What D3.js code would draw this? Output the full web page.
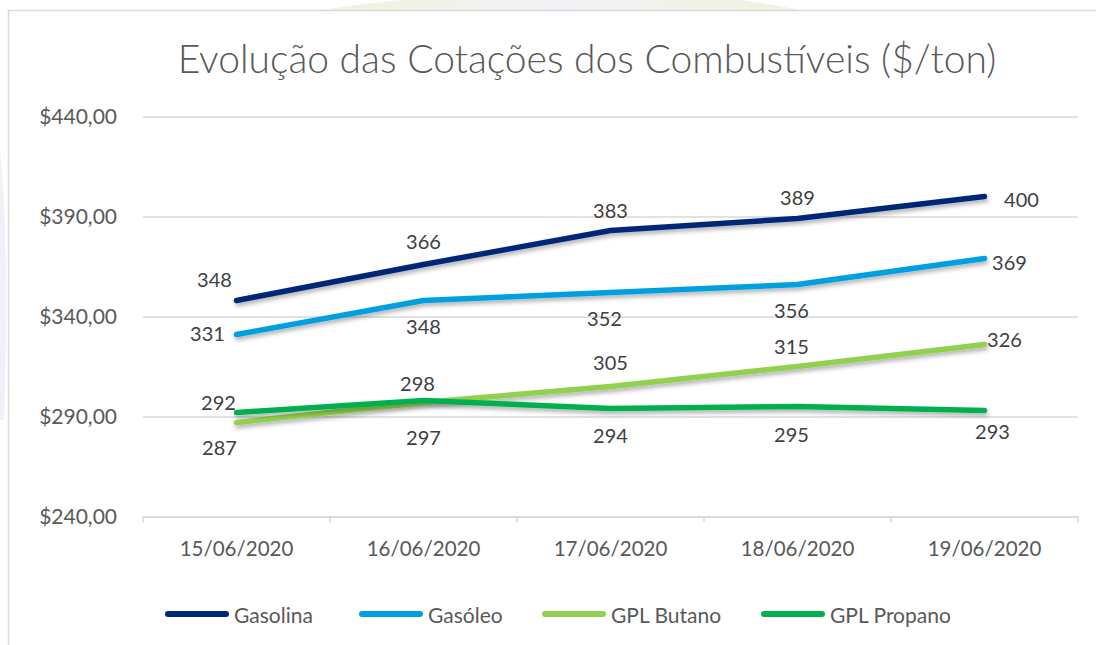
<!DOCTYPE html>
<html><head><meta charset="utf-8">
<script src="https://cdn.jsdelivr.net/npm/d3@7"></script>
<style>html,body{margin:0;padding:0;background:#fff;}svg{display:block;}</style>
</head><body>
<svg id="c" width="1096" height="645"></svg>
<script>
const categories = ["15/06/2020","16/06/2020","17/06/2020","18/06/2020","19/06/2020"];
const seriesNames = ["Gasolina","Gasóleo","GPL Butano","GPL Propano"];
const gasolina = [348,366,383,389,400];
const gasoleo = [331,348,352,356,369];
const butano = [287,297,305,315,326];
const propano = [292,298,294,295,293];
const yTicks = [240,290,340,390,440];
const colors = ["#002878","#00A0E0","#92D050","#00B050"];
// label placement per point: [dx, dy]
const labelPos = [
  [[-22,-22],[0,-24],[0,-21],[0,-22],[37,2]],
  [[-29,-2],[0,25],[-6,25],[-6,25],[25,3]],
  [[-17,24],[0,34],[0,-25],[-6,-21],[20,-6]],
  [[-18,-11],[-6,-18],[0,26],[-6,27],[8,20]]
];
const data = [gasolina,gasoleo,butano,propano];

const svg = d3.select("#c");
const font = "Lato, 'Open Sans', sans-serif";

// faint watermark background
const defs = svg.append("defs");
const g1 = defs.append("linearGradient").attr("id","wm").attr("x1","0").attr("x2","1");
g1.append("stop").attr("offset","0").attr("stop-color","#eef3dc");
g1.append("stop").attr("offset","0.5").attr("stop-color","#f1f2f7");
g1.append("stop").attr("offset","1").attr("stop-color","#eef3dc");
svg.append("path").attr("d","M320,10 Q600,-30 800,10 Z").attr("fill","url(#wm)");
svg.append("path").attr("d","M0,150 Q10,250 4,420 L0,420 Z").attr("fill","#eef1f6");
const flt = defs.append("filter").attr("id","sh").attr("x","-10%").attr("y","-50%").attr("width","120%").attr("height","200%");
flt.append("feDropShadow").attr("dx",1).attr("dy",3).attr("stdDeviation",2.2).attr("flood-color","#000").attr("flood-opacity",0.3);

// chart frame
svg.append("rect").attr("x",8.5).attr("y",10.5).attr("width",1100).attr("height",700)
  .attr("fill","#fff").attr("stroke","#d9d9d9").attr("stroke-width",1.5);

const x0 = 143, x1 = 1078, yTop = 116.5, yBot = 516.5;
const x = d3.scaleBand().domain(categories).range([x0,x1]);
const y = d3.scaleLinear().domain([240,440]).range([yBot,yTop]);

// title
svg.append("text").attr("x",587).attr("y",73).attr("text-anchor","middle")
  .attr("font-family",font).attr("font-size",39).attr("font-weight",300).attr("fill","#595959")
  .text("Evolução das Cotações dos Combustíveis ($/ton)");

// gridlines + y labels
const yAxis = d3.axisLeft(y).tickValues(yTicks).tickSize(-(x1-x0)).tickPadding(14)
  .tickFormat(d => "$" + d3.format(".2f")(d).replace(".",","));
const ya = svg.append("g").attr("transform",`translate(${x0},0)`).call(yAxis);
ya.select(".domain").remove();
ya.selectAll(".tick line").attr("stroke","#d9d9d9").attr("stroke-width",1.5);
ya.selectAll(".tick text").attr("font-family",font).attr("font-size",21).attr("fill","#595959")
  .attr("x",-(x0-117)).attr("text-anchor","end");

// x axis
const xAxis = d3.axisBottom(x).tickSize(0).tickPadding(25);
const xa = svg.append("g").attr("transform",`translate(0,${yBot})`).call(xAxis);
xa.select(".domain").attr("stroke","#d9d9d9").attr("stroke-width",1.5);
xa.selectAll(".tick text").attr("font-family",font).attr("font-size",20.5).attr("fill","#595959");
const bounds = categories.map(c => x(c)).concat([x1]);
svg.append("g").selectAll("line").data(bounds).join("line")
  .attr("x1",d=>d).attr("x2",d=>d).attr("y1",yBot).attr("y2",yBot+6)
  .attr("stroke","#d9d9d9").attr("stroke-width",1.5);

// lines
const line = d3.line().x((d,i)=>x(categories[i])+x.bandwidth()/2).y(d=>y(d));
data.forEach((s,k)=>{
  svg.append("path").datum(s).attr("d",line).attr("fill","none")
    .attr("stroke",colors[k]).attr("stroke-width",5.5).attr("stroke-linecap","round")
    .attr("stroke-linejoin","round").attr("filter","url(#sh)");
});
// labels
data.forEach((s,k)=>{
  svg.append("g").selectAll("text").data(s).join("text")
    .attr("x",(d,i)=>x(categories[i])+x.bandwidth()/2+labelPos[k][i][0])
    .attr("y",(d,i)=>y(d)+labelPos[k][i][1])
    .attr("text-anchor","middle").attr("dominant-baseline","central")
    .attr("font-family",font).attr("font-size",20).attr("fill","#404040")
    .text(d=>d);
});

// legend
const legX = [168,362,545,764];
const lg = svg.append("g");
seriesNames.forEach((n,k)=>{
  lg.append("line").attr("x1",legX[k]).attr("x2",legX[k]+58).attr("y1",614).attr("y2",614)
    .attr("stroke",colors[k]).attr("stroke-width",6).attr("stroke-linecap","round");
  lg.append("text").attr("x",legX[k]+66).attr("y",614).attr("dominant-baseline","central")
    .attr("font-family",font).attr("font-size",21).attr("fill","#595959").text(n);
});
</script>
</body></html>
